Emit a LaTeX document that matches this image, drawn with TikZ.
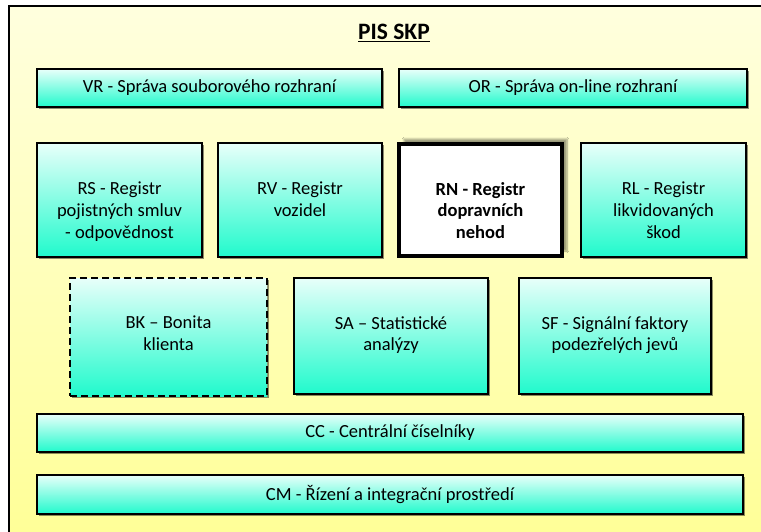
\documentclass[tikz,border=0pt]{standalone}
\usepackage{fontspec}
\setmainfont{Carlito}
\usetikzlibrary{positioning,shadows,shadows.blur}
\definecolor{skpcream}{RGB}{255,255,222}
\definecolor{skpyellow}{RGB}{255,255,150}
\definecolor{skplightcyan}{RGB}{232,255,250}
\definecolor{skpaqua}{RGB}{32,250,204}
\newcommand{\skpfont}{\fontsize{18.5}{21.8}\selectfont}

\tikzset{
    modbox/.style={
        draw=black,
        line width=2pt,
        top color=skplightcyan,
        bottom color=skpaqua,
        inner sep=0pt,
        align=center,
        font=\skpfont,
        drop shadow={shadow xshift=1.5pt, shadow yshift=-1.5pt, fill=black, opacity=0.45}
    },
    modtext/.style={inner sep=0pt, align=center, font=\skpfont}
}

\begin{document}
\begin{tikzpicture}[x=1pt, y=-1pt]
    \useasboundingbox (0,0) rectangle (761,531);
    \clip (0,0) rectangle (761,531);
    % background frame
    \draw[line width=2pt, top color=skpcream, bottom color=skpyellow] (9,6) rectangle (775,545);
    \node[font=\fontsize{23.5}{27}\selectfont\bfseries] (title) at (394,33) {\underline{PIS SKP}};

    % interfaces
    \node[modbox, minimum width=345pt, minimum height=38pt] (vr) at (209.5,88) {VR - Správa souborového rozhraní};
    \node[modbox, minimum width=348pt, minimum height=38pt] (or) at (573,88) {OR - Správa on-line rozhraní};

    % registers
    \node[modbox, minimum width=165pt, minimum height=114pt] (rs) at (119.5,200) {};
    \node[modbox, minimum width=164pt, minimum height=114pt] (rv) at (300,200) {};
    \node[draw=black, line width=4pt, fill=white, minimum width=163pt, minimum height=112pt,
        blur shadow={shadow xshift=5pt, shadow yshift=5pt, shadow blur steps=6, shadow opacity=40}] (rn) at (480.5,200) {};
    \node[modbox, minimum width=165pt, minimum height=114pt] (rl) at (663.5,200) {};
    \node[modtext, below=40pt of rs.north] (rs-text) {RS - Registr\\pojistných smluv\\- odpovědnost};
    \node[modtext, below=40pt of rv.north] (rv-text) {RV - Registr\\vozidel};
    \node[modtext, below=40pt of rn.north, font=\skpfont\bfseries] (rn-text) {RN - Registr\\dopravních\\nehod};
    \node[modtext, below=40pt of rl.north] (rl-text) {RL - Registr\\likvidovaných\\škod};

    % analyses
    \node[modbox, dash pattern=on 7pt off 4pt, minimum width=197pt, minimum height=118pt] (bk) at (168.5,337) {};
    \node[modbox, minimum width=194pt, minimum height=116pt] (sa) at (391,336) {};
    \node[modbox, minimum width=192pt, minimum height=116pt] (sf) at (615,336) {};
    \node[modtext, below=39pt of bk.north] (bk-text) {BK – Bonita\\klienta};
    \node[modtext, below=39pt of sa.north] (sa-text) {SA – Statistické\\analýzy};
    \node[modtext, below=39pt of sf.north] (sf-text) {SF - Signální faktory\\podezřelých jevů};

    % common layers
    \node[modbox, minimum width=706pt, minimum height=38pt] (cc) at (390,433) {CC - Centrální číselníky};
    \node[modbox, minimum width=706pt, minimum height=39pt] (cm) at (390,494.5) {CM - Řízení a integrační prostředí};
\end{tikzpicture}
\end{document}
